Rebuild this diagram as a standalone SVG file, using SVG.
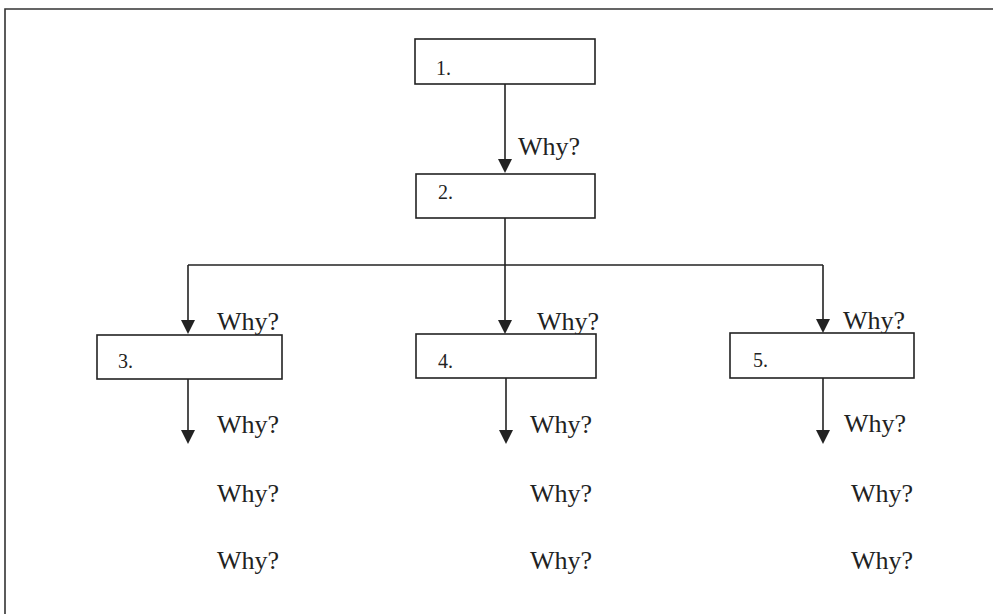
<svg xmlns="http://www.w3.org/2000/svg" width="993" height="614" viewBox="0 0 993 614">
<style>
.box{fill:#fff;stroke:#222;stroke-width:1.6}
.ln{fill:none;stroke:#222;stroke-width:1.6}
.ah{fill:#222}
.lbl{font-family:"Liberation Serif","Times New Roman",serif;font-size:20px;fill:#222}
.why{font-family:"Liberation Serif","Times New Roman",serif;font-size:26px;fill:#222}
.frame{fill:none;stroke:#333;stroke-width:1.6}
</style>
<rect width="993" height="614" fill="#fff"/>
<path class="frame" d="M5,614 L5,9 L993,9"/>
<g id="connectors">
<line class="ln" x1="505" y1="84" x2="505" y2="165"/>
<path class="ah" d="M498,159 L512,159 L505,173 Z"/>
<line class="ln" x1="505" y1="218" x2="505" y2="326"/>
<line class="ln" x1="188" y1="265" x2="823" y2="265"/>
<line class="ln" x1="188" y1="265" x2="188" y2="326"/>
<line class="ln" x1="823" y1="265" x2="823" y2="325"/>
<path class="ah" d="M181,320 L195,320 L188,334 Z"/>
<path class="ah" d="M498,320 L512,320 L505,334 Z"/>
<path class="ah" d="M816,319 L830,319 L823,333 Z"/>
<line class="ln" x1="188" y1="379" x2="188" y2="436"/>
<line class="ln" x1="506" y1="378" x2="506" y2="436"/>
<line class="ln" x1="823" y1="378" x2="823" y2="436"/>
<path class="ah" d="M181,430 L195,430 L188,444 Z"/>
<path class="ah" d="M499,430 L513,430 L506,444 Z"/>
<path class="ah" d="M816,430 L830,430 L823,444 Z"/>
</g>
<g id="labels">
<text class="why" x="518" y="155">Why?</text>
<text class="why" x="217" y="330">Why?</text>
<text class="why" x="537" y="330">Why?</text>
<text class="why" x="843" y="329">Why?</text>
<text class="why" x="217" y="433">Why?</text>
<text class="why" x="530" y="433">Why?</text>
<text class="why" x="844" y="432">Why?</text>
<text class="why" x="217" y="502">Why?</text>
<text class="why" x="530" y="502">Why?</text>
<text class="why" x="851" y="502">Why?</text>
<text class="why" x="217" y="569">Why?</text>
<text class="why" x="530" y="569">Why?</text>
<text class="why" x="851" y="569">Why?</text>
</g>
<g id="node1"><rect class="box" x="415" y="39" width="180" height="45"/><text class="lbl" x="436" y="75">1.</text></g>
<g id="node2"><rect class="box" x="416" y="174" width="179" height="44"/><text class="lbl" x="438" y="199">2.</text></g>
<g id="node3"><rect class="box" x="97" y="335" width="185" height="44"/><text class="lbl" x="118" y="368">3.</text></g>
<g id="node4"><rect class="box" x="416" y="334" width="180" height="44"/><text class="lbl" x="438" y="368">4.</text></g>
<g id="node5"><rect class="box" x="730" y="333" width="184" height="45"/><text class="lbl" x="753" y="367">5.</text></g>
</svg>
